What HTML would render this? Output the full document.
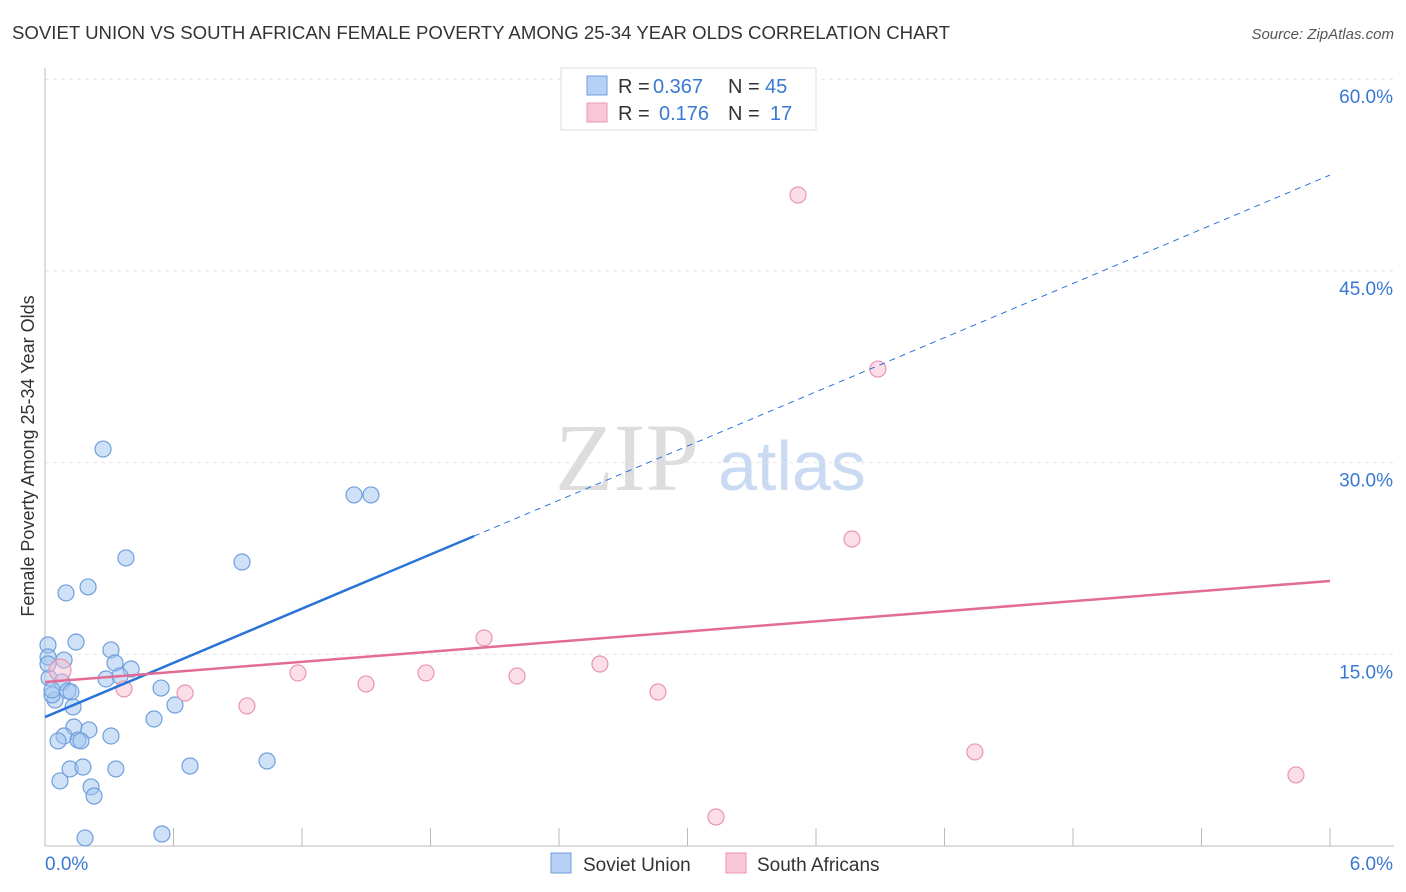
<!DOCTYPE html>
<html><head><meta charset="utf-8"><style>
body{margin:0;background:#fff;font-family:"Liberation Sans",sans-serif;}
svg{display:block}
</style></head><body>
<svg id="c" width="1406" height="892">
<text x="12" y="39" font-size="18" fill="#333" textLength="938" lengthAdjust="spacingAndGlyphs">SOVIET UNION VS SOUTH AFRICAN FEMALE POVERTY AMONG 25-34 YEAR OLDS CORRELATION CHART</text>
<text x="1394" y="39" font-size="15" fill="#555" font-style="italic" text-anchor="end">Source: ZipAtlas.com</text>
<text x="34" y="456" font-size="18" fill="#333" text-anchor="middle" transform="rotate(-90 34 456)">Female Poverty Among 25-34 Year Olds</text>
<text x="555" y="490" font-size="96" fill="#ddd" font-family="Liberation Serif,serif">ZIP</text>
<text x="718" y="490" font-size="70" fill="#c9daf2">atlas</text>
<g id="grid"></g><g id="marks"></g>
<g>
<rect x="561" y="68" width="255" height="62" fill="#fff" stroke="#ddd"/>
<rect x="587" y="76" width="20" height="19" fill="#b7d0f5" stroke="#6f9fdc"/>
<text x="618" y="93" font-size="20" fill="#333">R =</text>
<text x="653" y="93" font-size="20" fill="#3a78d4">0.367</text>
<text x="728" y="93" font-size="20" fill="#333">N =</text>
<text x="765" y="93" font-size="20" fill="#3a78d4">45</text>
<rect x="587" y="103" width="20" height="19" fill="#f9c6d6" stroke="#e995b5"/>
<text x="618" y="120" font-size="20" fill="#333">R =</text>
<text x="659" y="120" font-size="20" fill="#3a78d4">0.176</text>
<text x="728" y="120" font-size="20" fill="#333">N =</text>
<text x="770" y="120" font-size="20" fill="#3a78d4">17</text>
</g>
<g>
<rect x="551" y="853" width="20" height="20" fill="#b7d0f5" stroke="#6f9fdc"/>
<text x="583" y="871" font-size="19" fill="#333">Soviet Union</text>
<rect x="726" y="853" width="20" height="20" fill="#f9c6d6" stroke="#e995b5"/>
<text x="757" y="871" font-size="19" fill="#333">South Africans</text>
</g>
</svg>
<script>
const blueX=[.271,1.443,1.522,.378,.920,.098,.201,.014,.145,.014,.089,.308,.327,.402,.019,.079,.285,.350,.107,.121,.542,.047,.607,.131,.509,.135,.205,.089,.061,.154,.168,.308,.117,.177,.331,.677,1.037,.070,.215,.229,.187,.546,.033,.014,.033];
const blueY=[31.06,27.47,27.47,22.54,22.22,19.80,20.27,15.73,15.96,14.79,14.55,15.34,14.32,13.85,13.15,12.83,13.07,13.30,12.13,12.05,12.36,11.42,11.03,10.88,9.94,9.31,9.08,8.61,8.22,8.29,8.22,8.61,6.03,6.18,6.03,6.26,6.65,5.09,4.62,3.91,0.63,0.94,11.82,14.24,12.21];
const pinkX=[3.516,3.889,3.768,2.050,2.591,1.181,1.779,2.204,1.499,.369,.654,2.862,.943,4.342,5.841,3.133,.070];
const pinkY=[50.94,37.32,24.02,16.28,14.24,13.54,13.54,13.30,12.68,12.29,11.97,12.05,10.96,7.36,5.56,2.27,13.77];
const blueTrend=[10.09,52.5], blueSolidEnd=2.003;
const pinkTrend=[12.83,20.74];
const yTicks=[15,30,45,60];
const NS='http://www.w3.org/2000/svg';
const sx=v=>45+v/6*1285, sy=v=>846-v*12.78;
function mk(t,a,p){const e=document.createElementNS(NS,t);for(const k in a)e.setAttribute(k,a[k]);p.appendChild(e);return e;}
const g=document.getElementById('grid'),m=document.getElementById('marks');
yTicks.forEach(t=>{const l=mk('line',{x1:45,x2:1394,y1:sy(t),y2:sy(t),stroke:'#e4e4e4','stroke-dasharray':'4,4'},g);


const tx=mk('text',{x:1393,y:sy(t)+24,'font-size':19,fill:'#3a78d4','text-anchor':'end'},g);tx.textContent=t.toFixed(1)+'%';

});
mk('line',{x1:45,x2:45,y1:68,y2:846,stroke:'#bbb'},g);
mk('line',{x1:45,x2:1394,y1:846,y2:846,stroke:'#bbb'},g);
for(let i=0;i<=10;i++)mk('line',{x1:sx(i*0.6),x2:sx(i*0.6),y1:828,y2:846,stroke:'#bbb'},g);
let t0=mk('text',{x:45,y:870,'font-size':19,fill:'#3a78d4'},g);t0.textContent='0.0%';


let t1=mk('text',{x:1393,y:870,'font-size':19,fill:'#3a78d4','text-anchor':'end'},g);t1.textContent='6.0%';


blueX.forEach((x,i)=>{const c=mk('circle',{cx:sx(x),cy:sy(blueY[i]),r:8,fill:'rgba(160,196,240,0.5)',stroke:'#6f9fdc','stroke-width':1.2},m);

});
pinkX.forEach((x,i)=>{const c=mk('circle',{cx:sx(x),cy:sy(pinkY[i]),r:i==16?11:8,fill:'rgba(248,190,210,0.5)',stroke:'#e995b5','stroke-width':1.2},m);

});
const by=x=>blueTrend[0]+(blueTrend[1]-blueTrend[0])*x/6;
let l1=mk('line',{x1:sx(0),y1:sy(by(0)),x2:sx(blueSolidEnd),y2:sy(by(blueSolidEnd)),stroke:'#2a74d8','stroke-width':2.5},m);


let l2=mk('line',{x1:sx(blueSolidEnd),y1:sy(by(blueSolidEnd)),x2:sx(6),y2:sy(by(6)),stroke:'#2a74d8','stroke-width':1,'stroke-dasharray':'6,5'},m);


let l3=mk('line',{x1:sx(0),y1:sy(pinkTrend[0]),x2:sx(6),y2:sy(pinkTrend[1]),stroke:'#e36b97','stroke-width':2.5},m);


</script>
</body></html>
